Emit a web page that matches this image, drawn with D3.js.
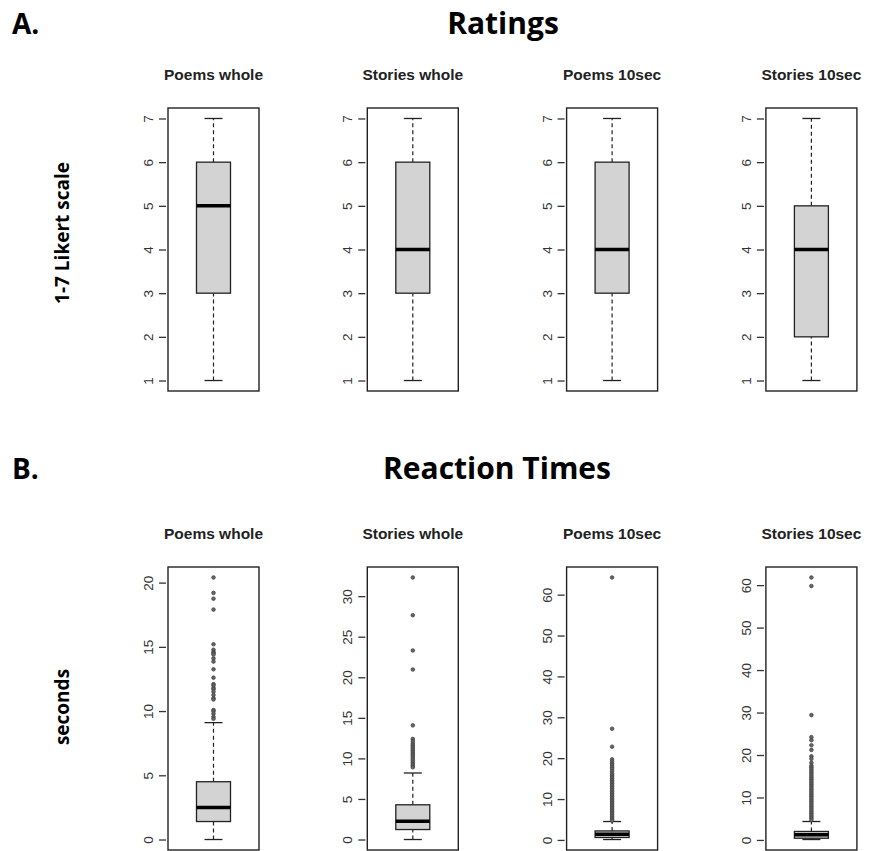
<!DOCTYPE html>
<html><head><meta charset="utf-8">
<script src="https://cdn.jsdelivr.net/npm/d3@7"></script>
<style>body{margin:0;background:#fff}</style>
</head><body>
<svg id="c" width="877" height="851"></svg>
<script>
const categories = ["Poems whole", "Stories whole", "Poems 10sec", "Stories 10sec"];
// [whiskerLow, Q1, median, Q3, whiskerHigh]
const ratingStats = [[1,3,5,6,7],[1,3,4,6,7],[1,3,4,6,7],[1,2,4,5,7]];
const ratingTicks = [1,2,3,4,5,6,7];
const rtStats = [[0,1.4,2.5,4.5,9.1],[0,1.23,2.26,4.28,8.2],[0.1,0.6,1.4,2.2,4.5],[0.1,0.4,1.2,2.0,4.34]];
const rtOutliers0 = [20.4,19.2,18.75,17.9,15.2,14.77,14.6,14.5,14.4,14.1,13.85,13.25,12.6,12.1,12.0,11.8,11.7,11.5,11.25,11.0,10.9,10.08,10.0,9.8,9.55,9.4];
const rtOutliers1 = [32.3,27.65,23.3,20.95,14.07,12.4,12.1,11.8,11.6,11.4,11.2,11.0,10.8,10.6,10.4,10.2,9.96,9.75,9.5,9.3,9.1,8.9];
const rtOutliers2 = [64.2,27.2,22.8,19.7,19.2,18.7,18.3,17.8,17.4,16.8,16.2,15.8,15.4,15.0,14.6,14.2,13.8,13.4,13.0,12.6,12.2,11.8,11.4,11.0,10.6,10.2,9.8,9.4,9.0,8.6,8.2,7.8,7.4,7.0,6.6,6.2,5.8,5.4,5.0,4.7];
const rtOutliers3 = [61.8,59.8,29.4,24.2,23.5,22.3,21.2,19.7,19.1,18.2,17.5,17.1,16.7,16.3,15.9,15.5,15.1,14.7,14.3,13.9,13.5,13.1,12.7,12.3,11.9,11.5,11.1,10.7,10.3,9.9,9.5,9.1,8.7,8.3,7.9,7.5,7.1,6.7,6.3,5.9,5.5,5.1,4.7];
const rtOutliers = [rtOutliers0, rtOutliers1, rtOutliers2, rtOutliers3];
const rtTicks = [[0,5,10,15,20],[0,5,10,15,20,25,30],[0,10,20,30,40,50,60],[0,10,20,30,40,50,60]];

const svg = d3.select("#c");
const frameW = 91, step = 199.3, left0 = 168;
const rows = [
  {top:108, bottom:391, stats:ratingStats, ticks:()=>ratingTicks, outl:()=>[]},
  {top:567, bottom:850, stats:rtStats, ticks:i=>rtTicks[i], outl:i=>rtOutliers[i]}
];
const HF = "Open Sans, sans-serif";

// Headings
svg.append("text").attr("x",12).attr("y",34).text("A.")
  .attr("font-family",HF).attr("font-weight","bold").attr("font-size",28);
svg.append("text").attr("x",503).attr("y",34).attr("text-anchor","middle").text("Ratings")
  .attr("font-family",HF).attr("font-weight","bold").attr("font-size",30);
svg.append("text").attr("x",12).attr("y",479).text("B.")
  .attr("font-family",HF).attr("font-weight","bold").attr("font-size",28);
svg.append("text").attr("x",497).attr("y",479).attr("text-anchor","middle").text("Reaction Times")
  .attr("font-family",HF).attr("font-weight","bold").attr("font-size",30);
svg.append("text").attr("transform","translate(69,233) rotate(-90)").attr("text-anchor","middle")
  .text("1-7 Likert scale").attr("font-family",HF).attr("font-weight","bold").attr("font-size",19);
svg.append("text").attr("transform","translate(69,707) rotate(-90)").attr("text-anchor","middle")
  .text("seconds").attr("font-family",HF).attr("font-weight","bold").attr("font-size",19);

rows.forEach((row, r) => {
  categories.forEach((cat, i) => {
    const x0 = left0 + i*step, cx = x0 + frameW/2;
    const s = row.stats[i], out = row.outl(i);
    const lo = d3.min([s[0], ...out]), hi = d3.max([s[4], ...out]);
    const pad = (hi - lo) * 0.04;
    const y = d3.scaleLinear().domain([lo - pad, hi + pad]).range([row.bottom, row.top]);
    const g = svg.append("g");
    // title
    g.append("text").attr("x", cx).attr("y", row.top - 28).attr("text-anchor","middle").text(cat)
      .attr("font-family","Liberation Sans, Arial, sans-serif").attr("font-weight","bold").attr("font-size",15.5).attr("fill","#222");
    // axis
    const ax = g.append("g").attr("transform",`translate(${x0 - 2},0)`)
      .call(d3.axisLeft(y).tickValues(row.ticks(i)).tickSize(7).tickPadding(5).tickFormat(d3.format("d")));
    ax.select(".domain").remove();
    ax.selectAll(".tick line").attr("stroke","#333").attr("stroke-width",1.3);
    ax.selectAll(".tick text").attr("transform","rotate(-90)").attr("x",0).attr("dy","0")
      .attr("y",-13).attr("text-anchor","middle")
      .attr("font-family","Liberation Sans, Arial, sans-serif").attr("font-size",13.5).attr("fill","#333");
    const bw = 34, cw = 18;
    // whiskers
    g.append("line").attr("x1",cx).attr("x2",cx).attr("y1",y(s[0])).attr("y2",y(s[1]))
      .attr("stroke","#222").attr("stroke-width",1.2).attr("stroke-dasharray","4,3");
    g.append("line").attr("x1",cx).attr("x2",cx).attr("y1",y(s[3])).attr("y2",y(s[4]))
      .attr("stroke","#222").attr("stroke-width",1.2).attr("stroke-dasharray","4,3");
    [s[0], s[4]].forEach(v => g.append("line").attr("x1",cx-cw/2).attr("x2",cx+cw/2)
      .attr("y1",y(v)).attr("y2",y(v)).attr("stroke","#222").attr("stroke-width",1.3));
    // box
    g.append("rect").attr("x",cx-bw/2).attr("width",bw).attr("y",y(s[3])).attr("height",y(s[1])-y(s[3]))
      .attr("fill","#d3d3d3").attr("stroke","#222").attr("stroke-width",1.3);
    g.append("line").attr("x1",cx-bw/2).attr("x2",cx+bw/2).attr("y1",y(s[2])).attr("y2",y(s[2]))
      .attr("stroke","#000").attr("stroke-width",3.5);
    // outliers
    g.selectAll("circle.o").data(out).join("circle").attr("class","o")
      .attr("cx",cx).attr("cy",d=>y(d)).attr("r",1.8)
      .attr("fill","#666").attr("stroke","#444").attr("stroke-width",0.8);
    // frame
    g.append("rect").attr("x",x0).attr("y",row.top).attr("width",frameW).attr("height",row.bottom-row.top)
      .attr("fill","none").attr("stroke","#222").attr("stroke-width",1.4);
  });
});
</script>
</body></html>
